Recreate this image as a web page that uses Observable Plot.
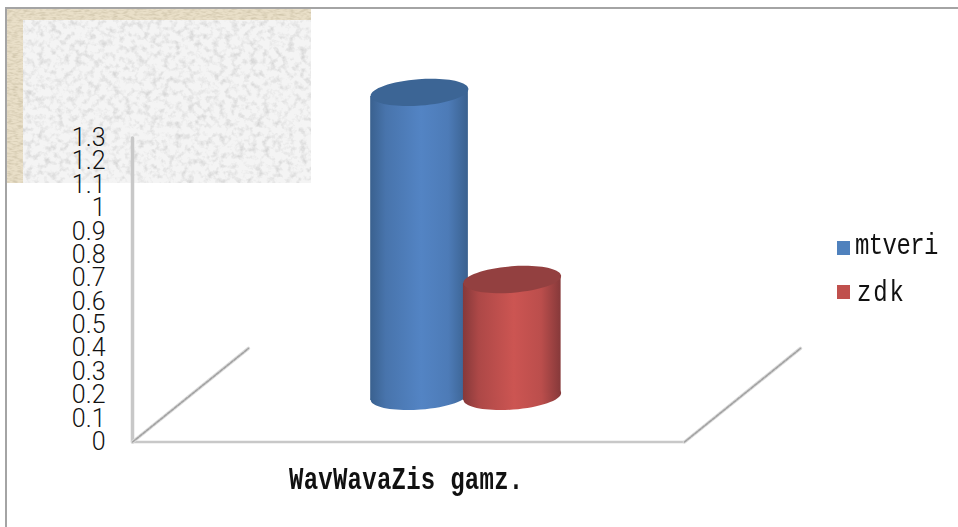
<!DOCTYPE html>
<html><head><meta charset="utf-8">
<script src="https://cdn.jsdelivr.net/npm/d3@7"></script>
<script src="https://cdn.jsdelivr.net/npm/@observablehq/plot@0.6"></script>
<style>
html,body{margin:0;padding:0;background:#fff;overflow:hidden}
#wrap{position:relative;width:958px;height:527px;overflow:hidden}
#frame{position:absolute;left:5px;top:7px;width:960px;height:530px;border-left:2px solid #a4a4a4;border-top:2px solid #a4a4a4;box-sizing:border-box}
#bg{position:absolute;left:7px;top:9px;width:304px;height:174px}
#chart{position:absolute;left:0;top:0}
#chart svg{background:transparent}
.leg{position:absolute;left:855px;font:24px "Liberation Mono",monospace;color:#111;line-height:28px;white-space:pre;transform:scaleY(1.2);transform-origin:0 50%}
.sw{position:absolute;left:837px;width:13px;height:14px}
#ttl{position:absolute;left:289px;top:467px;font:bold 24px "Liberation Mono",monospace;letter-spacing:.25px;color:#111;white-space:pre;transform:scaleY(1.28);transform-origin:0 50%}
</style></head><body>
<div id="wrap"><div id="frame"></div><div id="bg"></div><div id="chart"></div><div id="legend"></div><div id="ttl"></div></div>
<script>
const categories = ["mtveri", "zdk"];
const values = [1.3, 0.5];
const centers = [0.52, 0.688];
const colors = ["#5384c4", "#cc5552"];
const darks = ["#3c6595", "#934040"];
const edges = ["#3a618f", "#86393a"];
const ticks = [0,.1,.2,.3,.4,.5,.6,.7,.8,.9,1,1.1,1.2,1.3];
const floorOffset = 0.195, barWidth = 0.177, tilt = 0.017, axisTitle = "WavWavaZis gamz.";
const floorLines = [
  [{x:0,y:0},{x:0,y:1.3}],
  [{x:0,y:0},{x:1,y:0}]
];
const depthLines = [
  [{x:0,y:0},{x:0.21,y:0.4}],
  [{x:1,y:0},{x:1.21,y:0.4}]
];
const rows = categories.map((c,i)=>({c,i,x:centers[i],v:values[i],base:floorOffset,top:floorOffset+values[i]}));

// flattened ellipse symbol, tipped up to the right like the cylinder caps
const ellipse = {draw(ctx,size){
  const a=Math.sqrt(size/Math.PI), b=a*0.27, k=0.5523, th=-0.075;
  const c=Math.cos(th), s=Math.sin(th);
  const X=(u,v)=>u*c-v*s, Y=(u,v)=>u*s+v*c;
  const B=(a1,b1,a2,b2,a3,b3)=>ctx.bezierCurveTo(X(a1,b1),Y(a1,b1),X(a2,b2),Y(a2,b2),X(a3,b3),Y(a3,b3));
  ctx.moveTo(X(-a,0),Y(-a,0));
  B(-a,-b*k,-a*k,-b,0,-b);
  B(a*k,-b,a,-b*k,a,0);
  B(a,b*k,a*k,b,0,b);
  B(-a*k,b,-a,b*k,-a,0);
  ctx.closePath();
}};

const cylinder = (d)=>[
  Plot.dot([d],{x:"x",y:"base",r:49,symbol:ellipse,fill:`url(#grad${d.i})`,stroke:null}),
  Plot.areaY([
    {x:d.x-barWidth/2,lo:d.base-tilt,hi:d.top-tilt},
    {x:d.x+barWidth/2,lo:d.base+tilt,hi:d.top+tilt}
  ],{x:"x",y1:"lo",y2:"hi",fill:`url(#grad${d.i})`}),
  Plot.dot([d],{x:"x",y:"top",r:49,symbol:ellipse,fill:darks[d.i],stroke:null})
];

const plot = Plot.plot({
  width:958, height:527, margin:0,
  style:{background:"transparent",overflow:"visible"},
  x:{type:"linear",domain:[0,1],range:[132,684],axis:null},
  y:{type:"linear",domain:[0,1.3],range:[441.5,137.5],axis:null},
  marks:[
    ...floorLines.map((l,i)=>Plot.line(l,{x:"x",y:"y",stroke:"#c8c8c8",strokeWidth:i?2.5:3.5})),
    ...depthLines.map(l=>Plot.line(l,{x:"x",y:"y",stroke:"#dcdcdc",strokeWidth:3.5})),
    ...depthLines.map(l=>Plot.line(l,{x:"x",y:"y",stroke:"#a2a2a2",strokeWidth:1.6,strokeDasharray:"3 1.5"})),
    ...rows.flatMap(cylinder),
    Plot.text(ticks,{x:0,y:d=>d,text:d=>String(d),textAnchor:"end",dx:-27,fontSize:25,fontWeight:300,fontFamily:"Roboto, Liberation Sans, sans-serif",fill:"#111",lineAnchor:"middle"})
  ]
});
const ns="http://www.w3.org/2000/svg";
const defs=document.createElementNS(ns,"defs");
colors.forEach((c,i)=>{
  const g=document.createElementNS(ns,"linearGradient");
  g.setAttribute("id","grad"+i);
  const mix=d3.interpolateRgb(edges[i],c);
  [[0,edges[i]],[.16,mix(.55)],[.52,c],[.8,mix(.75)],[1,edges[i]]].forEach(([o,col])=>{
    const s=document.createElementNS(ns,"stop");
    s.setAttribute("offset",o);s.setAttribute("stop-color",col);g.appendChild(s);
  });
  defs.appendChild(g);
});
plot.insertBefore(defs,plot.firstChild);
document.getElementById("chart").appendChild(plot);

// textured panel behind the plot
document.getElementById("bg").innerHTML=`<svg width="304" height="174" xmlns="${ns}" style="display:block">
<defs>
<filter id="speck" x="0" y="0" width="100%" height="100%"><feTurbulence type="fractalNoise" baseFrequency="0.16" numOctaves="3" seed="7"/>
<feColorMatrix values="0 0 0 0 .55  0 0 0 0 .55  0 0 0 0 .55  1.5 0 0 0 -.68"/><feGaussianBlur stdDeviation=".6"/></filter>
<filter id="weave" x="0" y="0" width="100%" height="100%"><feTurbulence type="fractalNoise" baseFrequency="0.18 0.55" numOctaves="2" seed="3"/>
<feColorMatrix values="0 0 0 0 .62  0 0 0 0 .55  0 0 0 0 .4  2 0 0 0 -.8"/></filter>
</defs>
<rect width="304" height="174" fill="#e9dfc8"/>
<rect width="304" height="174" filter="url(#weave)"/>
<rect x="16" y="11" width="288" height="163" fill="#f4f4f4"/>
<rect x="16" y="11" width="288" height="163" filter="url(#speck)"/>
</svg>`;

const leg=document.getElementById("legend");
categories.forEach((c,i)=>{
  const top=[241,285][i], text=[233,280][i];
  leg.insertAdjacentHTML("beforeend",`<div class="sw" style="top:${top}px;background:${["#4f81bd","#c0504d"][i]}"></div><div class="leg" style="top:${text}px;letter-spacing:${i?1.8:-.6}px;left:${i?857:855}px">${c}</div>`);
});
document.getElementById("ttl").textContent=axisTitle;
</script></body></html>
